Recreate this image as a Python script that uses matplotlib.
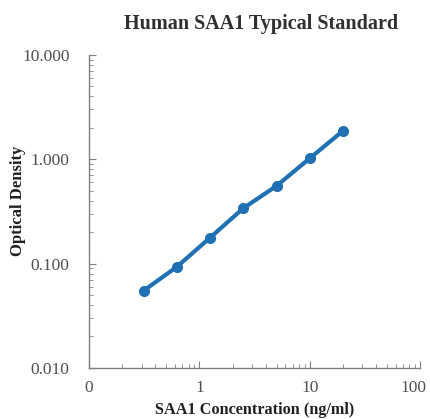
import numpy as np
import matplotlib.pyplot as plt
from matplotlib.ticker import FixedLocator, FixedFormatter, LogLocator, NullFormatter
from matplotlib.transforms import ScaledTranslation

plt.rcParams['font.family'] = ['Liberation Serif', 'DejaVu Serif']

# datos de la curva estandar
conc = [0.3125, 0.625, 1.25, 2.5, 5, 10, 20]
od = [0.055, 0.093, 0.177, 0.339, 0.555, 1.02, 1.87]

x_ticks = [0.1, 1, 10, 100]
x_labels = ["0", "1", "10", "100"]
y_ticks = [0.01, 0.1, 1, 10]
y_labels = ["0.010", "0.100", "1.000", "10.000"]

fig = plt.figure(figsize=(4.3, 4.19), dpi=100)
ax = fig.add_axes([0.207, 0.122, 0.77, 0.747])

ax.plot(conc, od, color="#2070B4", linewidth=3, marker="o", markersize=7)

ax.set_xscale("log")
ax.set_yscale("log")
ax.set_xlim(0.1, 100)
ax.set_ylim(0.01, 10)

ax.xaxis.set_major_locator(FixedLocator(x_ticks))
ax.xaxis.set_major_formatter(FixedFormatter(x_labels))
ax.yaxis.set_major_locator(FixedLocator(y_ticks))
ax.yaxis.set_major_formatter(FixedFormatter(y_labels))
ax.xaxis.set_minor_locator(LogLocator(base=10, subs=np.arange(2, 10)))
ax.yaxis.set_minor_locator(LogLocator(base=10, subs=np.arange(2, 10)))
ax.xaxis.set_minor_formatter(NullFormatter())
ax.yaxis.set_minor_formatter(NullFormatter())

for s in ["top", "right"]:
    ax.spines[s].set_visible(False)
for s in ["left", "bottom"]:
    ax.spines[s].set_color("#808080")
    ax.spines[s].set_linewidth(1)

ax.tick_params(which="both", direction="in", color="#808080", labelcolor="#505050", labelsize=12.5)
ax.tick_params(which="major", length=5)
ax.tick_params(axis="y", which="major", pad=14)
ax.tick_params(axis="x", which="major", pad=9)
ax.tick_params(which="minor", length=3)

# el "100" queda corrido hacia adentro como en el original
fig.canvas.draw()
last = ax.get_xticklabels()[-1]
last.set_transform(last.get_transform() + ScaledTranslation(-5 / 72, 0, fig.dpi_scale_trans))

fig.text(0.607, 1 - 24 / 419, "Human SAA1 Typical Standard", fontsize=14.5, fontweight="bold",
         color="#303030", ha="center", va="center")
ax.set_xlabel("SAA1 Concentration (ng/ml)", fontsize=11.7, fontweight="bold", color="#202020", labelpad=4)
ax.set_ylabel("Optical Density", fontsize=12, fontweight="bold", color="#202020")
ax.yaxis.set_label_coords(-0.19, 0.534)

plt.savefig("out.png", dpi=100)
